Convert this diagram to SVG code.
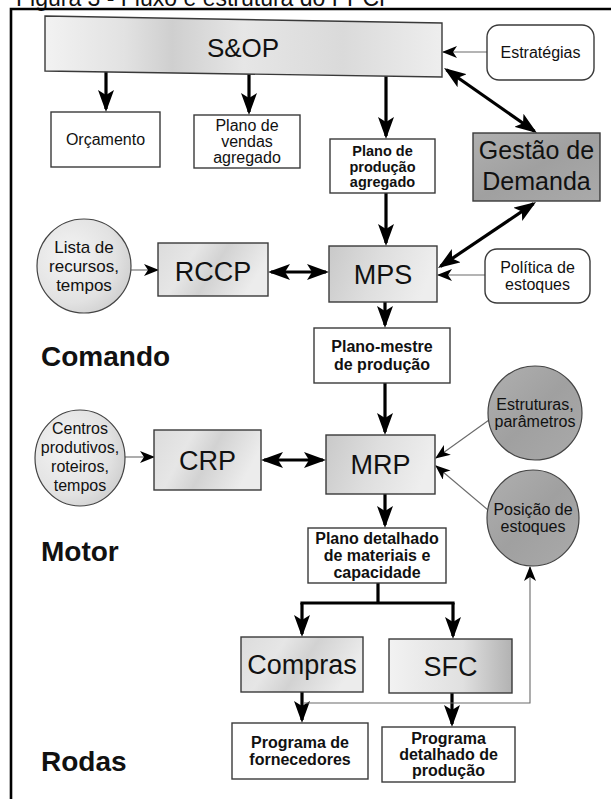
<svg xmlns="http://www.w3.org/2000/svg" width="611" height="799" viewBox="0 0 611 799">
<style>
text{font-family:"Liberation Sans",Arial,sans-serif;fill:#111;text-anchor:middle}
.b{font-weight:bold}
.box{stroke:#3a3a3a;stroke-width:1.4;fill:#fff}
.lt{fill:url(#gl);stroke:#3a3a3a;stroke-width:1.4}
.lft{fill:url(#glf);stroke:#3a3a3a;stroke-width:1.4}
.dk{fill:url(#gd);stroke:#3a3a3a;stroke-width:1.4}
.thick{stroke:#000;stroke-width:3.2;fill:none}
.thin{stroke:#6a6a6a;stroke-width:1.1;fill:none}
.big{font-size:27px}
.sec{font-size:28px;font-weight:bold;text-anchor:start}
</style>
<defs>
<linearGradient id="gl" x1="0" y1="0" x2="1" y2="0.3">
<stop offset="0" stop-color="#dcdcdc"/><stop offset="0.35" stop-color="#e6e6e6"/><stop offset="0.6" stop-color="#d2d2d2"/><stop offset="1" stop-color="#ececec"/>
</linearGradient>
<linearGradient id="glf" x1="0" y1="0" x2="1" y2="0.2">
<stop offset="0" stop-color="#c9c9c9"/><stop offset="0.5" stop-color="#dedede"/><stop offset="1" stop-color="#eeeeee"/>
</linearGradient>
<linearGradient id="gsfc" x1="0" y1="0" x2="1" y2="0">
<stop offset="0" stop-color="#f2f2f2"/><stop offset="0.6" stop-color="#e0e0e0"/><stop offset="1" stop-color="#b2b2b2"/>
</linearGradient>
<linearGradient id="gs" x1="0" y1="0" x2="1" y2="0">
<stop offset="0" stop-color="#f2f2f2"/><stop offset="0.2" stop-color="#e2e2e2"/><stop offset="0.32" stop-color="#cfcfcf"/><stop offset="0.5" stop-color="#e6e6e6"/><stop offset="0.75" stop-color="#dadada"/><stop offset="1" stop-color="#eeeeee"/>
</linearGradient>
<linearGradient id="gd" x1="0" y1="0" x2="1" y2="1">
<stop offset="0" stop-color="#b0b0b0"/><stop offset="0.5" stop-color="#a0a0a0"/><stop offset="1" stop-color="#aaaaaa"/>
</linearGradient>
<radialGradient id="ge" cx="0.35" cy="0.4" r="0.7">
<stop offset="0" stop-color="#f4f4f4"/><stop offset="0.7" stop-color="#e2e2e2"/><stop offset="1" stop-color="#cfcfcf"/>
</radialGradient>
<marker id="ah" viewBox="0 0 22 16" markerUnits="userSpaceOnUse" markerWidth="22" markerHeight="16" refX="19" refY="8" orient="auto-start-reverse">
<path d="M0,0 L22,8 L0,16 L5,8 z" fill="#000"/>
</marker>
<marker id="at" viewBox="0 0 15 12" markerUnits="userSpaceOnUse" markerWidth="15" markerHeight="12" refX="14" refY="6" orient="auto">
<path d="M0,0 L15,6 L0,12 L4,6 z" fill="#000"/>
</marker>
</defs>
<rect width="611" height="799" fill="#fff"/>
<text x="16" y="6" style="font-size:23px;text-anchor:start">Figura 3 - Fluxo e estrutura do PPCP</text>
<path d="M11,799 V9 H611" stroke="#000" stroke-width="2.6" fill="none"/>

<g id="connectors">
<line class="thick" x1="106" y1="71" x2="106" y2="109" marker-end="url(#ah)"/>
<line class="thick" x1="249" y1="74" x2="249" y2="112" marker-end="url(#ah)"/>
<line class="thick" x1="386" y1="76" x2="386" y2="136" marker-end="url(#ah)"/>
<line class="thin" x1="487" y1="52" x2="443" y2="52" marker-end="url(#at)"/>
<line class="thick" x1="446.5" y1="69.8" x2="534.5" y2="131.2" marker-start="url(#ah)" marker-end="url(#ah)"/>
<line class="thick" x1="386" y1="193" x2="386" y2="243" marker-end="url(#ah)"/>
<line class="thick" x1="440.5" y1="266.3" x2="533.5" y2="203.7" marker-start="url(#ah)" marker-end="url(#ah)"/>
<line class="thin" x1="485" y1="275" x2="438" y2="275" marker-end="url(#at)"/>
<line class="thick" x1="271" y1="272" x2="326" y2="272" marker-start="url(#ah)" marker-end="url(#ah)"/>
<line class="thin" x1="131" y1="270" x2="158" y2="270" marker-end="url(#at)"/>
<line class="thick" x1="385" y1="302" x2="385" y2="325" marker-end="url(#ah)"/>
<line class="thick" x1="385" y1="383" x2="385" y2="432" marker-end="url(#ah)"/>
<line class="thick" x1="264" y1="460" x2="323" y2="460" marker-start="url(#ah)" marker-end="url(#ah)"/>
<line class="thin" x1="125" y1="457" x2="154" y2="457" marker-end="url(#at)"/>
<line class="thin" x1="489" y1="420" x2="436" y2="458" marker-end="url(#at)"/>
<line class="thin" x1="488" y1="510" x2="436" y2="466" marker-end="url(#at)"/>
<line class="thick" x1="385" y1="494" x2="385" y2="525" marker-end="url(#ah)"/>
<path class="thick" d="M378,583 V603 M300.4,603 H454.6"/>
<line class="thick" x1="302" y1="603" x2="302" y2="634" marker-end="url(#ah)"/>
<line class="thick" x1="453" y1="603" x2="453" y2="636" marker-end="url(#ah)"/>
<line class="thick" x1="302" y1="692" x2="302" y2="720" marker-end="url(#ah)"/>
<line class="thick" x1="452" y1="693" x2="452" y2="724" marker-end="url(#ah)"/>
<path class="thin" d="M303,703 H530 V567" marker-end="url(#at)"/>
</g>

<g id="sop"><polygon points="45,16 442,23 442,77 45,71" fill="url(#gs)" stroke="#3a3a3a" stroke-width="1.4"/><text x="243" y="57" style="font-size:26px">S&amp;OP</text></g>
<g id="estrategias"><rect class="box" x="487" y="25" width="107" height="55" rx="12"/><text x="540.5" y="58" style="font-size:16px">Estratégias</text></g>
<g id="orcamento"><rect class="box" x="51" y="112" width="109" height="55"/><text x="105.5" y="145" style="font-size:16px">Orçamento</text></g>
<g id="plano-vendas"><rect class="box" x="194" y="115" width="106" height="53"/><text style="font-size:16px"><tspan x="247" y="131">Plano de</tspan><tspan x="247" y="147">vendas</tspan><tspan x="247" y="163">agregado</tspan></text></g>
<g id="plano-producao"><rect class="box" x="330" y="139" width="105" height="54"/><text class="b" style="font-size:14.5px"><tspan x="382.5" y="156">Plano de</tspan><tspan x="382.5" y="171.5">produção</tspan><tspan x="382.5" y="187">agregado</tspan></text></g>
<g id="gestao"><rect class="dk" x="473" y="133" width="127" height="68"/><text style="font-size:25px"><tspan x="536.5" y="159">Gestão de</tspan><tspan x="536.5" y="190">Demanda</tspan></text></g>
<g id="lista"><ellipse cx="84" cy="266" rx="47" ry="47" fill="url(#ge)" stroke="#444" stroke-width="1.2"/><text style="font-size:17px"><tspan x="84" y="253">Lista de</tspan><tspan x="84" y="272">recursos,</tspan><tspan x="84" y="291">tempos</tspan></text></g>
<g id="rccp"><rect class="lt" x="158" y="243" width="110" height="53"/><text class="big" x="213" y="281">RCCP</text></g>
<g id="mps"><rect class="lft" x="329" y="246" width="108" height="56"/><text class="big" x="383" y="284">MPS</text></g>
<g id="politica"><rect class="box" x="485" y="249" width="105" height="54" rx="12"/><text style="font-size:16px"><tspan x="537.5" y="273">Política de</tspan><tspan x="537.5" y="290">estoques</tspan></text></g>
<g id="plano-mestre"><rect class="box" x="314" y="328" width="136" height="55"/><text class="b" style="font-size:16px"><tspan x="382" y="352">Plano-mestre</tspan><tspan x="382" y="370">de produção</tspan></text></g>
<text class="sec" x="41" y="366">Comando</text>
<g id="centros"><ellipse cx="80" cy="458" rx="45" ry="48" fill="url(#ge)" stroke="#444" stroke-width="1.2"/><text style="font-size:16px"><tspan x="80" y="434">Centros</tspan><tspan x="80" y="453">produtivos,</tspan><tspan x="80" y="472">roteiros,</tspan><tspan x="80" y="491">tempos</tspan></text></g>
<g id="crp"><rect class="lt" x="154" y="430" width="107" height="60"/><text class="big" x="207.5" y="470">CRP</text></g>
<g id="mrp"><rect class="lft" x="326" y="435" width="109" height="59"/><text class="big" x="380.5" y="474">MRP</text></g>
<g id="estruturas"><ellipse cx="535" cy="413" rx="47" ry="47" fill="url(#gd)" stroke="#444" stroke-width="1.2"/><text style="font-size:16px"><tspan x="535" y="410">Estruturas,</tspan><tspan x="535" y="427">parâmetros</tspan></text></g>
<g id="posicao"><ellipse cx="533" cy="518" rx="46" ry="48" fill="url(#gd)" stroke="#444" stroke-width="1.2"/><text style="font-size:16px"><tspan x="533" y="515">Posição de</tspan><tspan x="533" y="532">estoques</tspan></text></g>
<g id="plano-detalhado"><rect class="box" x="308" y="528" width="138" height="55"/><text class="b" style="font-size:16px"><tspan x="377" y="544">Plano detalhado</tspan><tspan x="377" y="561">de materiais e</tspan><tspan x="377" y="578">capacidade</tspan></text></g>
<text class="sec" x="41" y="561">Motor</text>
<g id="compras"><rect class="lt" x="241" y="637" width="122" height="55"/><text class="big" x="302" y="674">Compras</text></g>
<g id="sfc"><rect x="389" y="639" width="123" height="54" fill="url(#gsfc)" stroke="#3a3a3a" stroke-width="1.4"/><text class="big" x="450.5" y="676">SFC</text></g>
<g id="prog-fornecedores"><rect class="box" x="232" y="723" width="136" height="56"/><text class="b" style="font-size:16px"><tspan x="300" y="748">Programa de</tspan><tspan x="300" y="765">fornecedores</tspan></text></g>
<g id="prog-detalhado"><rect class="box" x="382" y="727" width="133" height="55"/><text class="b" style="font-size:16px"><tspan x="448.5" y="744">Programa</tspan><tspan x="448.5" y="760">detalhado de</tspan><tspan x="448.5" y="776">produção</tspan></text></g>
<text class="sec" x="41" y="771">Rodas</text>
</svg>
